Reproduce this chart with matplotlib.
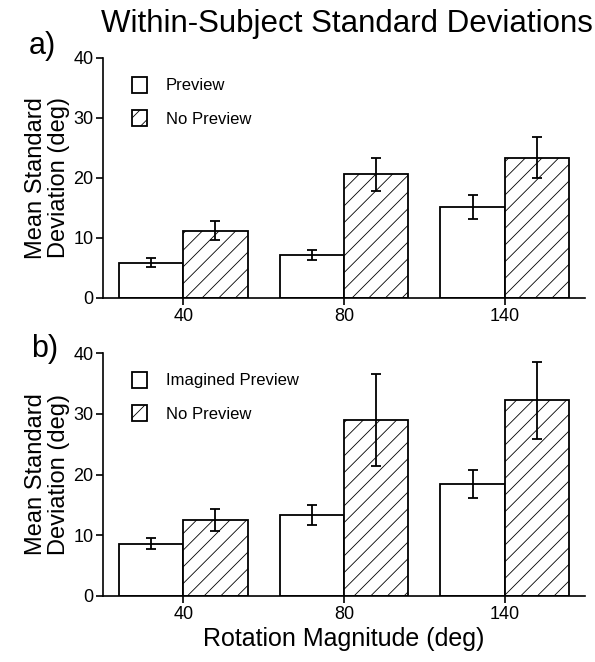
import numpy as np
import matplotlib.pyplot as plt

plt.rcParams['font.family'] = ['Liberation Sans', 'DejaVu Sans']
plt.rcParams['hatch.linewidth'] = 0.6
plt.rcParams['hatch.color'] = '#555555'

magnitudes = ["40", "80", "140"]

# panel a
a_preview = [5.9, 7.2, 15.2]
a_preview_err = [0.7, 0.8, 2.0]
a_nopreview = [11.2, 20.6, 23.4]
a_nopreview_err = [1.6, 2.7, 3.4]

# panel b
b_imagined = [8.6, 13.3, 18.4]
b_imagined_err = [0.9, 1.6, 2.3]
b_nopreview = [12.5, 29.0, 32.2]
b_nopreview_err = [1.75, 7.6, 6.3]

fig = plt.figure(figsize=(5.95, 6.62), dpi=100)
W, H = 595.0, 662.0

def make_axes(top, bottom):
    left, right = 103, 585
    return fig.add_axes([left / W, 1 - bottom / H, (right - left) / W, (bottom - top) / H])

def draw_panel(ax, white, white_err, hatched, hatched_err, white_label):
    x = np.arange(len(magnitudes))
    w = 0.4
    err_kw = dict(ecolor="black", elinewidth=1.3, capsize=3.5, capthick=1.3)
    ax.bar(x - w / 2, white, w, yerr=white_err, color="white", edgecolor="black",
           linewidth=1.3, label=white_label, error_kw=err_kw)
    ax.bar(x + w / 2, hatched, w, yerr=hatched_err, color="white", edgecolor="black",
           linewidth=1.3, hatch="//", label="No Preview", error_kw=err_kw)
    ax.set_xlim(-0.5, 2.5)
    ax.set_ylim(0, 40)
    ax.set_yticks([0, 10, 20, 30, 40])
    ax.set_xticks(x)
    ax.set_xticklabels(magnitudes)
    for s in ["top", "right"]:
        ax.spines[s].set_visible(False)
    ax.spines["left"].set_linewidth(1.2)
    ax.spines["bottom"].set_linewidth(1.2)
    ax.tick_params(direction="out", length=5, width=1.2, labelsize=13, pad=2)
    ax.set_ylabel("Mean Standard\nDeviation (deg)", fontsize=17, labelpad=2, linespacing=1.1)
    leg = ax.legend(loc="upper left", bbox_to_anchor=(0.03, 0.985), frameon=False,
                    fontsize=12, handlelength=0.9, handleheight=1.1, labelspacing=1.0,
                    handletextpad=1.1)
    return leg

ax1 = make_axes(58, 298)
draw_panel(ax1, a_preview, a_preview_err, a_nopreview, a_nopreview_err, "Preview")
ax2 = make_axes(353, 596)
draw_panel(ax2, b_imagined, b_imagined_err, b_nopreview, b_nopreview_err, "Imagined Preview")
ax2.set_xlabel("Rotation Magnitude (deg)", fontsize=18, labelpad=3)

fig.text(347 / W, 1 - 24 / H, "Within-Subject Standard Deviations", fontsize=22.5,
         ha="center", va="center")
fig.text(29 / W, 1 - 46 / H, "a)", fontsize=22, ha="left", va="center")
fig.text(31 / W, 1 - 349 / H, "b)", fontsize=22, ha="left", va="center")

fig.savefig("out.png", dpi=100)
